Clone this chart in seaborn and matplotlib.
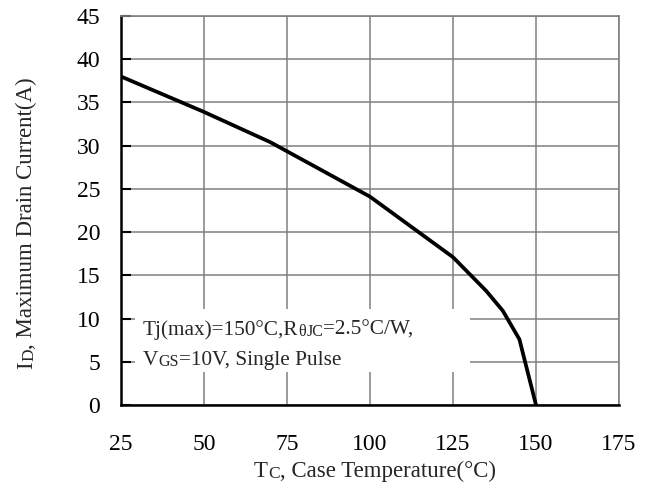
import matplotlib
matplotlib.use("Agg")
import matplotlib.pyplot as plt
import seaborn as sns
import pandas as pd
from matplotlib.patches import Rectangle

# ---- data ----
case_temp = [25, 50, 70, 100, 125, 135, 140, 145, 150]
drain_current = [38.0, 33.9, 30.4, 24.1, 17.1, 13.2, 10.9, 7.6, 0.0]
x_ticks = [25, 50, 75, 100, 125, 150, 175]
y_ticks = [0, 5, 10, 15, 20, 25, 30, 35, 40, 45]

sns.set_theme(style="white")
plt.rcParams['font.family'] = ['Liberation Serif', 'DejaVu Serif']

W, H = 647, 490
fig = plt.figure(figsize=(W / 100, H / 100), dpi=100)
ax = fig.add_axes([121 / W, 1 - 405 / H, (619 - 121) / W, (405 - 16) / H])

df = pd.DataFrame({"Tc": case_temp, "Id": drain_current})
sns.lineplot(data=df, x="Tc", y="Id", ax=ax, color="black", lw=2.7, zorder=4,
             sort=False, legend=False)

ax.set_xlim(25, 175)
ax.set_ylim(0, 45)
ax.set_xticks(x_ticks)
ax.set_yticks(y_ticks)
ax.set_xticklabels([str(v) for v in x_ticks])
ax.set_yticklabels([str(v) for v in y_ticks])
ax.tick_params(axis='both', labelsize=17, colors='black', direction='in',
               length=0)
ax.tick_params(axis='y', length=7, width=1.5, left=True, pad=15)
ax.tick_params(axis='x', pad=21)
ax.set_xlabel("")
ax.set_ylabel("")

ax.grid(True, color='#808080', lw=1.1)
ax.set_axisbelow(True)
for side in ['left', 'bottom']:
    ax.spines[side].set_color('black')
    ax.spines[side].set_linewidth(1.8)
for side in ['top', 'right']:
    ax.spines[side].set_color('#808080')
    ax.spines[side].set_linewidth(1.2)

# white annotation box
ax.add_patch(Rectangle((29.2, 3.8), 100.8, 7.25, facecolor='white',
                       edgecolor='none', zorder=2))


def rich(x, y, pieces, rotation=0):
    """Place a run of text pieces with mixed sizes on one line (figure coords)."""
    t0, s0 = pieces[0]
    if rotation == 0:
        prev = fig.text(x, y, t0, fontsize=s0, ha='left', va='bottom', zorder=5)
        for t, s in pieces[1:]:
            prev = fig.add_artist(matplotlib.text.Annotation(
                t, xy=(1, 0), xycoords=prev, fontsize=s, ha='left',
                va='bottom', annotation_clip=False, zorder=5))
    else:
        prev = fig.text(x, y, t0, fontsize=s0, ha='right', va='bottom',
                        rotation=90, zorder=5)
        for t, s in pieces[1:]:
            prev = fig.add_artist(matplotlib.text.Annotation(
                t, xy=(1, 1), xycoords=prev, fontsize=s, ha='right',
                va='bottom', rotation=90, annotation_clip=False, zorder=5))


# annotation text inside the box
rich(143 / W, 1 - 340 / H,
     [("Tj(max)=150°C,R", 15.3), ("θ", 11.5), ("JC", 11.5), ("=2.5°C/W,", 15.3)])
rich(143 / W, 1 - 370 / H,
     [("V", 15.3), ("GS", 11.5), ("=10V, Single Pulse", 15.3)])

# axis labels
rich(254 / W, 1 - 482 / H, [("T", 16.5), ("C", 12.5), (", Case Temperature(°C)", 16.5)])
rich(37 / W, 1 - 369 / H,
     [("I", 16.5), ("D", 12.5), (", Maximum Drain Current(A)", 16.5)], rotation=90)

fig.savefig("out.png", dpi=100, facecolor='white')
